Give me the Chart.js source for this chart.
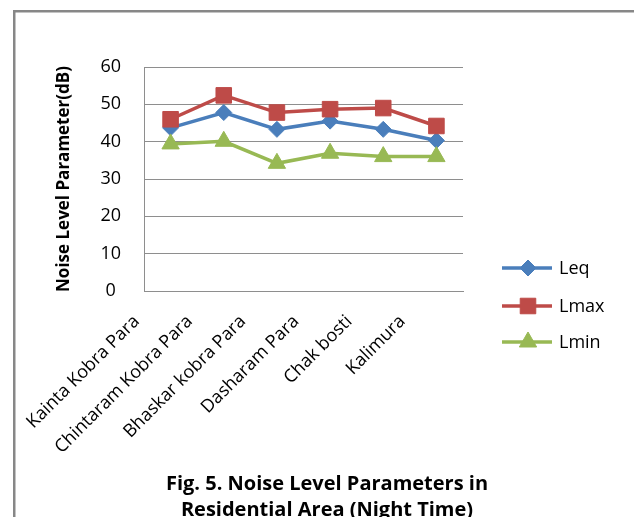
<!DOCTYPE html>
<html>
<head>
<meta charset="utf-8">
<script src="https://cdn.jsdelivr.net/npm/chart.js@4.4.1/dist/chart.umd.min.js"></script>
<style>
  html, body { margin: 0; padding: 0; background: #ffffff; }
  canvas { display: block; }
</style>
</head>
<body>
<canvas id="c" width="634" height="517"></canvas>
<script>
const categories = ["Kainta Kobra Para", "Chintaram Kobra Para", "Bhaskar kobra Para", "Dasharam Para", "Chak bosti", "Kalimura"];
const seriesNames = ["Leq", "Lmax", "Lmin"];
const leqValues = [43.7, 47.8, 43.3, 45.5, 43.3, 40.3];
const lmaxValues = [46.0, 52.4, 47.8, 48.7, 49.0, 44.2];
const lminValues = [39.4, 40.1, 34.2, 36.9, 36.0, 36.0];
const yTicks = [0, 10, 20, 30, 40, 50, 60];
const yTitle = "Noise Level Parameter(dB)";
const caption = ["Fig. 5. Noise Level Parameters in", "Residential Area (Night Time)"];

const colors = ["#4A7EBB", "#BE4B48", "#98B954"];
const pointStyles = ["rectRot", "rect", "triangle"];
const pointRadii = [8, 11, 10];
const seriesValues = [leqValues, lmaxValues, lminValues];

const datasets = seriesNames.map((name, i) => ({
  label: name,
  data: seriesValues[i],
  borderColor: colors[i],
  backgroundColor: colors[i],
  borderWidth: 3.5,
  pointStyle: pointStyles[i],
  pointRadius: pointRadii[i],
  pointHoverRadius: pointRadii[i],
  pointBorderWidth: 1,
  pointBackgroundColor: colors[i],
  pointBorderColor: colors[i],
  tension: 0,
  order: 3 - i
}));

const decorPlugin = {
  id: 'decor',
  beforeDraw(chart) {
    const ctx = chart.ctx;
    ctx.save();
    ctx.strokeStyle = '#878787';
    ctx.lineWidth = 2.5;
    ctx.beginPath();
    ctx.moveTo(14.25, 540);
    ctx.lineTo(14.25, 11.25);
    ctx.lineTo(660, 11.25);
    ctx.stroke();
    ctx.restore();
  },
  afterDraw(chart) {
    const ctx = chart.ctx;
    ctx.save();
    const lx0 = 502, lx1 = 552, mx = 528, tx = 559;
    const ys = [268, 306, 342];
    chart.data.datasets.forEach((ds, i) => {
      const y = ys[i];
      ctx.strokeStyle = ds.borderColor;
      ctx.lineWidth = 3.5;
      ctx.beginPath();
      ctx.moveTo(lx0, y);
      ctx.lineTo(lx1, y);
      ctx.stroke();
      ctx.fillStyle = ds.pointBackgroundColor;
      ctx.strokeStyle = ds.pointBorderColor;
      ctx.lineWidth = 1;
      Chart.helpers.drawPoint(ctx, { pointStyle: ds.pointStyle, rotation: 0, radius: ds.pointRadius, borderWidth: 1 }, mx, y);
      ctx.fillStyle = '#000000';
      ctx.font = '18px "Open Sans"';
      ctx.textAlign = 'left';
      ctx.textBaseline = 'middle';
      ctx.fillText(ds.label, tx, y + 1);
    });
    ctx.restore();
    ctx.save();
    ctx.fillStyle = '#000000';
    ctx.font = 'bold 20px "Open Sans"';
    ctx.textAlign = 'center';
    ctx.textBaseline = 'alphabetic';
    ctx.fillText(caption[0], 327, 490);
    ctx.fillText(caption[1], 327, 516);
    ctx.restore();
  }
};

new Chart(document.getElementById('c'), {
  type: 'line',
  data: { labels: categories, datasets: datasets },
  plugins: [decorPlugin],
  options: {
    responsive: false,
    devicePixelRatio: 1,
    animation: false,
    layout: { padding: { top: 67, right: 171, left: 0, bottom: 0 } },
    plugins: {
      legend: { display: false },
      title: { display: false },
      tooltip: { enabled: false }
    },
    scales: {
      x: {
        offset: true,
        grid: { display: false, drawTicks: false, offset: true },
        border: { display: true, color: '#8e8e8e', width: 1 },
        ticks: {
          autoSkip: false,
          maxRotation: 45,
          minRotation: 45,
          labelOffset: -34,
          padding: 20,
          color: '#000000',
          font: { family: '"Open Sans"', size: 18 }
        },
        afterFit(scale) { scale.height = 226; }
      },
      y: {
        min: 0,
        max: 60,
        afterBuildTicks(scale) { scale.ticks = yTicks.map(v => ({ value: v })); },
        grid: { color: '#8e8e8e', lineWidth: 1, drawTicks: false },
        border: { display: true, color: '#8e8e8e', width: 1 },
        ticks: {
          crossAlign: 'center',
          padding: 23,
          color: '#000000',
          font: { family: '"Open Sans"', size: 18 }
        },
        title: {
          display: true,
          text: yTitle,
          color: '#000000',
          font: { family: '"Open Sans"', size: 17, weight: 'bold' },
          padding: { top: 54, bottom: 0 }
        },
        afterFit(scale) { scale.width = 144; }
      }
    }
  }
});
</script>
</body>
</html>
